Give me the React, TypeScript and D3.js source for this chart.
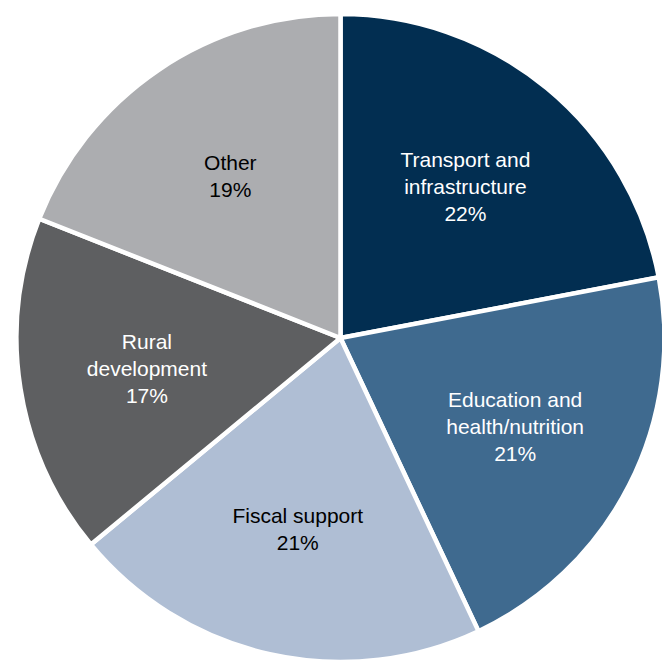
import React from "react";
import * as d3 from "d3";

const categories = [
  ["Transport and", "infrastructure"],
  ["Education and", "health/nutrition"],
  ["Fiscal support"],
  ["Rural", "development"],
  ["Other"],
];
const values = [22, 21, 21, 17, 19];
const colors = ["#022E51", "#3F6A8F", "#AFBED4", "#5E5F61", "#ACADB0"];
const textColors = ["#ffffff", "#ffffff", "#000000", "#ffffff", "#000000"];

export default function App() {
  const width = 662;
  const height = 660;
  const cx = 340.5;
  const cy = 338;
  const R = 324;

  const pie = d3.pie<number>().sort(null).value((d) => d);
  const arcs = pie(values);
  const arc = d3.arc<d3.PieArcDatum<number>>().innerRadius(0).outerRadius(R);
  const labelArc = d3
    .arc<d3.PieArcDatum<number>>()
    .innerRadius(R * 0.605)
    .outerRadius(R * 0.605);
  const lineH = 27;

  return (
    <svg
      width={width}
      height={height}
      style={{ position: "absolute", left: 0, top: 0, display: "block" }}
    >
      <rect width={width} height={height} fill="#ffffff" />
      <g transform={`translate(${cx},${cy})`}>
        {arcs.map((a, i) => (
          <path
            key={i}
            d={arc(a) || ""}
            fill={colors[i]}
            stroke="#ffffff"
            strokeWidth={4.5}
            strokeLinejoin="miter"
          />
        ))}
        {arcs.map((a, i) => {
          const [x, y] = labelArc.centroid(a);
          const lines = [...categories[i], `${values[i]}%`];
          const y0 = y - ((lines.length - 1) * lineH) / 2;
          return (
            <text
              key={`t${i}`}
              x={x}
              textAnchor="middle"
              fontFamily="Liberation Sans, Arial, sans-serif"
              fontSize={21}
              fill={textColors[i]}
            >
              {lines.map((l, j) => (
                <tspan key={j} x={x} y={y0 + j * lineH} dy="0.35em">
                  {l}
                </tspan>
              ))}
            </text>
          );
        })}
      </g>
    </svg>
  );
}
